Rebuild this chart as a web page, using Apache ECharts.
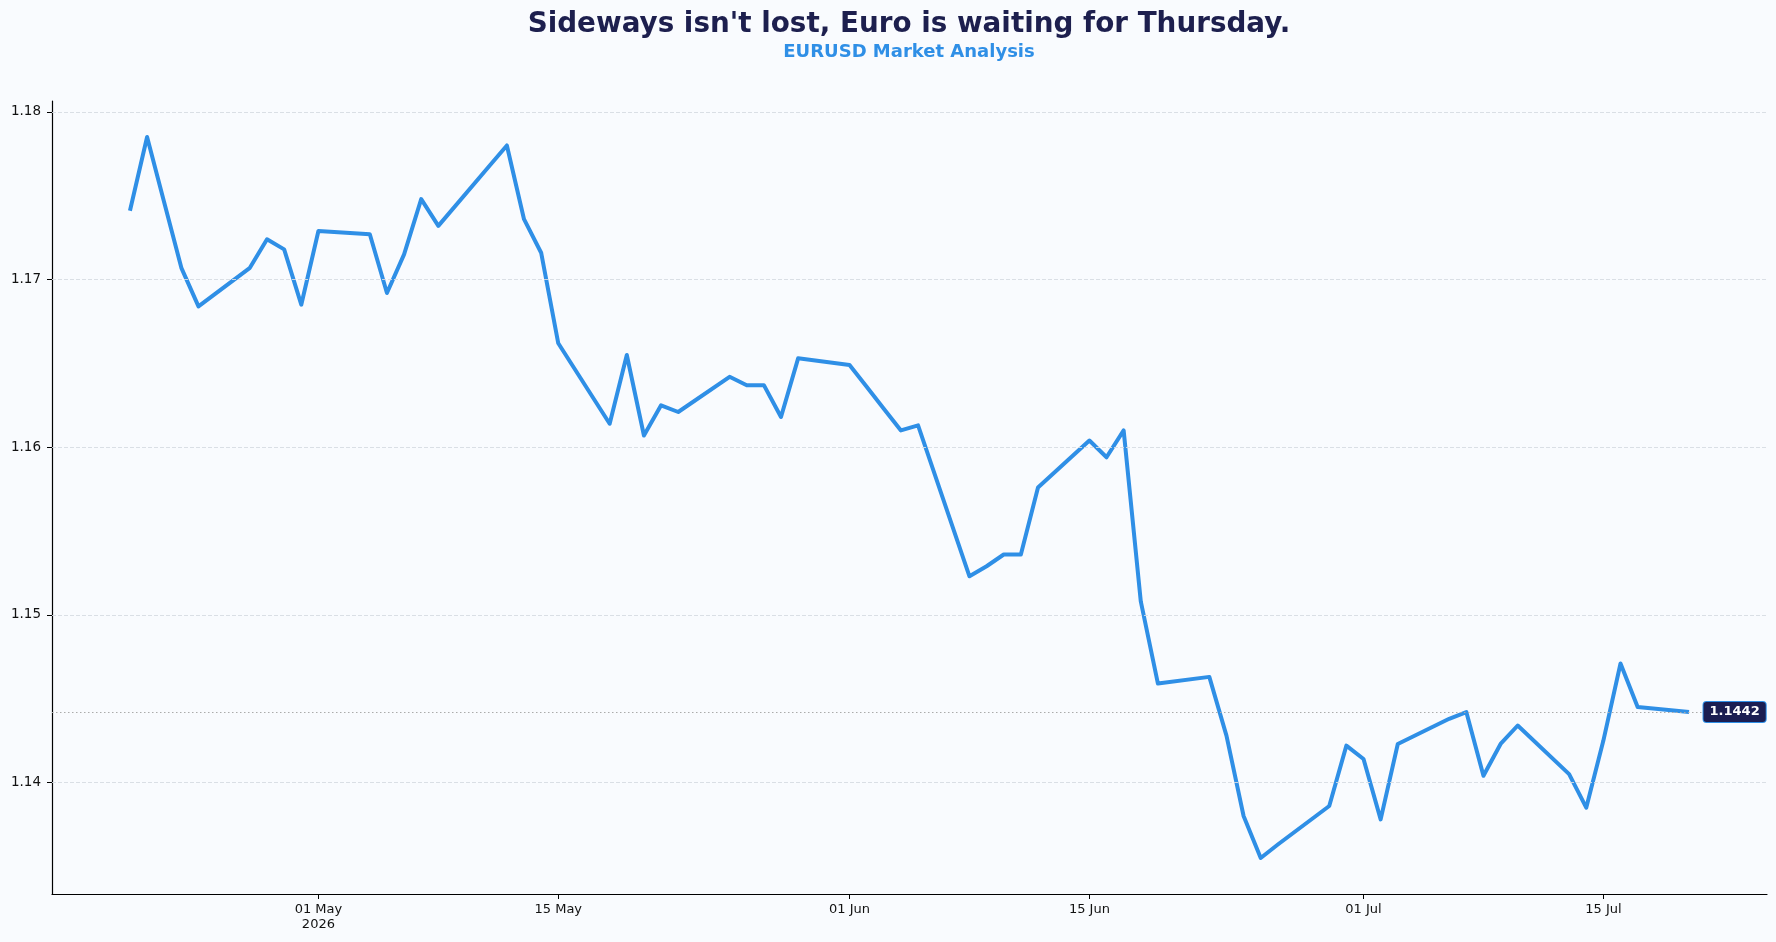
<!DOCTYPE html>
<html>
<head>
<meta charset="utf-8">
<script src="https://cdn.jsdelivr.net/npm/echarts@6.0.0/dist/echarts.min.js"></script>
<style>
  html, body { margin: 0; padding: 0; background: #F9FBFE; }
  #chart { width: 1776px; height: 942px; }
</style>
</head>
<body>
<div id="chart"></div>
<script>
// ---- Data ----
const titleText = "Sideways isn't lost, Euro is waiting for Thursday.";
const subtitleText = "EURUSD Market Analysis";

const dates = [
  "2026-04-20","2026-04-21","2026-04-22","2026-04-23","2026-04-24",
  "2026-04-27","2026-04-28","2026-04-29","2026-04-30","2026-05-01",
  "2026-05-04","2026-05-05","2026-05-06","2026-05-07","2026-05-08",
  "2026-05-11","2026-05-12","2026-05-13","2026-05-14","2026-05-15",
  "2026-05-18","2026-05-19","2026-05-20","2026-05-21","2026-05-22",
  "2026-05-25","2026-05-26","2026-05-27","2026-05-28","2026-05-29",
  "2026-06-01","2026-06-02","2026-06-03","2026-06-04","2026-06-05",
  "2026-06-08","2026-06-09","2026-06-10","2026-06-11","2026-06-12",
  "2026-06-15","2026-06-16","2026-06-17","2026-06-18","2026-06-19",
  "2026-06-22","2026-06-23","2026-06-24","2026-06-25","2026-06-26",
  "2026-06-29","2026-06-30","2026-07-01","2026-07-02","2026-07-03",
  "2026-07-06","2026-07-07","2026-07-08","2026-07-09","2026-07-10",
  "2026-07-13","2026-07-14","2026-07-15","2026-07-16","2026-07-17",
  "2026-07-20"
];

const closes = [
  1.1741, 1.1785, 1.1746, 1.1707, 1.1684,
  1.1707, 1.1724, 1.1718, 1.1685, 1.1729,
  1.1727, 1.1692, 1.1715, 1.1748, 1.1732,
  1.1768, 1.1780, 1.1736, 1.1716, 1.1662,
  1.1614, 1.1655, 1.1607, 1.1625, 1.1621,
  1.1642, 1.1637, 1.1637, 1.1618, 1.1653,
  1.1649, 1.1636, 1.1623, 1.1610, 1.1613,
  1.1523, 1.1529, 1.1536, 1.1536, 1.1576,
  1.1604, 1.1594, 1.1610, 1.1508, 1.1459,
  1.1463, 1.1428, 1.1380, 1.1355, 1.1363,
  1.1386, 1.1422, 1.1414, 1.1378, 1.1423,
  1.1438, 1.1442, 1.1404, 1.1423, 1.1434,
  1.1405, 1.1385, 1.1425, 1.1471, 1.1445,
  1.1442
];

const yTicks = [1.14, 1.15, 1.16, 1.17, 1.18];
const xTickDates = ["2026-05-01","2026-05-15","2026-06-01","2026-06-15","2026-07-01","2026-07-15"];
const monthNames = ["Jan","Feb","Mar","Apr","May","Jun","Jul","Aug","Sep","Oct","Nov","Dec"];

// ---- Build ----
function toMs(s) { const p = s.split('-').map(Number); return Date.UTC(p[0], p[1]-1, p[2]); }
const xs = dates.map(toMs);
const seriesData = xs.map((x, i) => [x, closes[i]]);
const xTicks = xTickDates.map(toMs);

// matplotlib-like 5% auto margins
const xMinD = Math.min(...xs), xMaxD = Math.max(...xs);
const xPad = (xMaxD - xMinD) * 0.05;
const yMinD = Math.min(...closes), yMaxD = Math.max(...closes);
const yPad = (yMaxD - yMinD) * 0.05;

const lastX = xs[xs.length - 1];
const lastY = closes[closes.length - 1];

const FONT = "DejaVu Sans";
const lineColor = "#2F8FE6";

const chart = echarts.init(document.getElementById('chart'), null, { renderer: 'canvas' });
chart.setOption({
  backgroundColor: '#F9FBFE',
  animation: false,
  title: [
    { text: titleText, left: 909, top: 9, padding: 0, textAlign: 'center',
      textStyle: { fontFamily: FONT, fontSize: 27.8, fontWeight: 'bold', color: '#1D1F4E', lineHeight: 32 } },
    { text: subtitleText, left: 909, top: 41, padding: 0, textAlign: 'center',
      textStyle: { fontFamily: FONT, fontSize: 18, fontWeight: 'bold', color: lineColor, lineHeight: 22 } }
  ],
  grid: { left: 52, right: 9, top: 101, bottom: 48, containLabel: false },
  xAxis: {
    type: 'value',
    min: xMinD - xPad,
    max: xMaxD + xPad,
    axisLine: { show: true, lineStyle: { color: '#000', width: 1.2 } },
    axisTick: { show: true, length: 5, lineStyle: { color: '#000', width: 1 }, customValues: xTicks },
    axisLabel: {
      show: true, customValues: xTicks, margin: 8,
      fontFamily: FONT, fontSize: 13, color: '#111', lineHeight: 15,
      formatter: function (v) {
        const d = new Date(v);
        const dd = String(d.getUTCDate()).padStart(2, '0');
        const s = dd + ' ' + monthNames[d.getUTCMonth()];
        return v === xTicks[0] ? s + '\n' + d.getUTCFullYear() : s;
      }
    },
    splitLine: { show: false }
  },
  yAxis: {
    type: 'value',
    min: yMinD - yPad,
    max: yMaxD + yPad,
    axisLine: { show: true, lineStyle: { color: '#000', width: 1.2 } },
    axisTick: { show: true, length: 5, lineStyle: { color: '#000', width: 1 }, customValues: yTicks },
    axisLabel: {
      show: true, customValues: yTicks, margin: 11,
      fontFamily: FONT, fontSize: 13.5, color: '#111',
      formatter: function (v) { return v.toFixed(2); }
    },
    splitLine: { show: false }
  },
  series: [
    {
      name: 'grid',
      type: 'line',
      z: 1,
      silent: true,
      data: seriesData,
      showSymbol: false,
      lineStyle: { opacity: 0 },
      markLine: {
        silent: true,
        precision: 6,
        symbol: ['none', 'none'],
        label: { show: false },
        data: yTicks.map(v => ({ yAxis: v, lineStyle: { color: '#D6DBE2', width: 0.9, type: [4, 2] } }))
          .concat([{ yAxis: lastY, lineStyle: { color: '#ABABAB', width: 1, type: [1.5, 2.5] } }])
      }
    },
    {
      name: 'EURUSD',
      type: 'line',
      z: 3,
      data: seriesData,
      showSymbol: false,
      symbol: 'none',
      lineStyle: { color: lineColor, width: 4, join: 'round', cap: 'butt' },
      markPoint: {
        silent: true,
        symbol: 'rect',
        symbolSize: 1,
        itemStyle: { color: 'rgba(0,0,0,0)' },
        data: [{ coord: [lastX, lastY], value: lastY }],
        label: {
          show: true, position: 'right', distance: 14,
          formatter: function () { return lastY.toFixed(4); },
          fontFamily: FONT, fontSize: 13, fontWeight: 'bold', color: '#FFFFFF',
          backgroundColor: '#1B1E52', borderColor: lineColor, borderWidth: 1, borderRadius: 3,
          padding: [4, 6, 3, 6]
        }
      }
    }
  ]
});
</script>
</body>
</html>
